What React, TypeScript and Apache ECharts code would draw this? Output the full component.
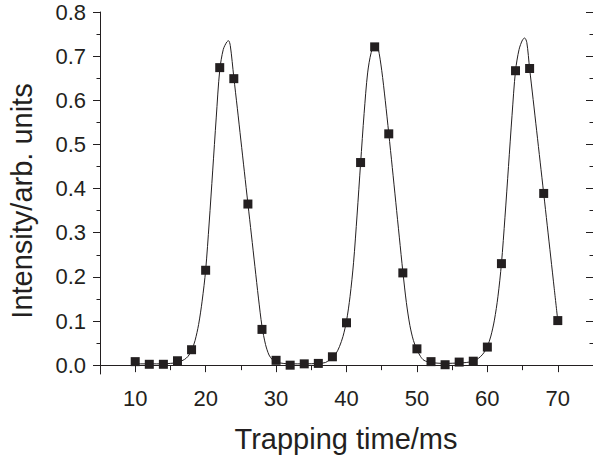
import React, { useEffect, useRef } from "react";
import * as echarts from "echarts";

// Measured data points (Trapping time in ms, intensity in arb. units)
const trapTimes = [10, 12, 14, 16, 18, 20, 22, 24, 26, 28, 30, 32, 34, 36, 38, 40, 42, 44, 46, 48, 50, 52, 54, 56, 58, 60, 62, 64, 66, 68, 70];
const intensities = [0.008, 0.002, 0.002, 0.010, 0.035, 0.215, 0.674, 0.649, 0.365, 0.081, 0.011, 0.000, 0.003, 0.004, 0.019, 0.096, 0.459, 0.721, 0.524, 0.209, 0.037, 0.008, 0.001, 0.007, 0.009, 0.041, 0.230, 0.667, 0.672, 0.389, 0.101];

// Fit curve
const fitTimes = [
  10, 12, 14, 15, 16, 17, 17.5, 18, 18.5, 19, 19.5, 20, 20.5, 21, 21.5, 22, 22.5, 23, 23.25, 23.5, 24, 24.5, 25, 25.5, 26, 26.5, 27, 27.5, 28, 28.5, 29, 29.5, 30, 31, 32, 34, 36,
  37, 38, 38.5, 39, 39.5, 40, 40.5, 41, 41.5, 42, 42.5, 43, 43.5, 44, 44.2, 44.5, 45, 45.5, 46, 46.5, 47, 47.5, 48, 48.5, 49, 49.5, 50, 50.5, 51, 52, 54, 56,
  57, 58, 58.5, 59, 59.5, 60, 60.5, 61, 61.5, 62, 62.5, 63, 63.5, 64, 64.5, 65, 65.3, 65.6, 66, 66.5, 67, 67.5, 68, 68.5, 69, 69.5, 70,
];
const fitValues = [
  0.003, 0.003, 0.003, 0.004, 0.006, 0.013, 0.02, 0.033, 0.056, 0.092, 0.145, 0.215, 0.322, 0.44, 0.56, 0.668, 0.715, 0.732, 0.735, 0.724, 0.652, 0.582, 0.51, 0.438, 0.366, 0.295, 0.223, 0.152, 0.088, 0.047, 0.023, 0.012, 0.007, 0.004, 0.003, 0.003, 0.004,
  0.006, 0.017, 0.026, 0.042, 0.065, 0.1, 0.155, 0.232, 0.34, 0.457, 0.57, 0.662, 0.708, 0.726, 0.729, 0.718, 0.668, 0.6, 0.525, 0.448, 0.369, 0.29, 0.212, 0.142, 0.09, 0.056, 0.035, 0.02, 0.011, 0.006, 0.004, 0.005,
  0.006, 0.009, 0.013, 0.019, 0.028, 0.042, 0.066, 0.102, 0.155, 0.23, 0.335, 0.45, 0.565, 0.667, 0.715, 0.737, 0.741, 0.731, 0.672, 0.602, 0.531, 0.46, 0.389, 0.317, 0.245, 0.173, 0.101,
];

// Tick positions
const xMajorTicks = [10, 20, 30, 40, 50, 60, 70];
const xMinorTicks = [15, 25, 35, 45, 55, 65];
const xBottomTicks = [10, 15, 20, 25, 30, 35, 40, 45, 50, 55, 60, 65, 70];
const yMajorTicks = [0, 0.1, 0.2, 0.3, 0.4, 0.5, 0.6, 0.7, 0.8];
const yMinorTicks = [0.05, 0.15, 0.25, 0.35, 0.45, 0.55, 0.65, 0.75];

const xTitle = "Trapping time/ms";
const yTitle = "Intensity/arb. units";

const INK = "#231f20";
const FONT = "'Liberation Sans', Arial, Helvetica, sans-serif";

export default function App() {
  const ref = useRef<HTMLDivElement>(null);

  useEffect(() => {
    document.body.style.margin = "0";
    const chart = echarts.init(ref.current!, null, { renderer: "svg" });
    const lineStyle = { color: INK, width: 1 };
    const xBase = { type: "value", min: 5, max: 75, splitLine: { show: false } };
    const yBase = { type: "value", min: -0.02, max: 0.8, splitLine: { show: false } };

    chart.setOption({
      animation: false,
      backgroundColor: "#ffffff",
      grid: { left: 100, top: 12, width: 494, height: 362, containLabel: false },
      xAxis: [
        {
          ...xBase,
          position: "bottom",
          axisLine: { show: true, lineStyle },
          axisTick: { show: true, inside: false, length: 5, customValues: xBottomTicks, lineStyle },
          axisLabel: {
            show: true,
            customValues: xMajorTicks,
            margin: 13,
            fontSize: 22,
            fontFamily: FONT,
            color: INK,
          },
        },
        {
          ...xBase,
          position: "top",
          axisLine: { show: true, lineStyle },
          axisTick: { show: true, inside: true, length: 7, customValues: xMajorTicks, lineStyle },
          axisLabel: { show: false },
        },
        {
          ...xBase,
          position: "top",
          axisLine: { show: false },
          axisTick: { show: true, inside: true, length: 3.5, customValues: xMinorTicks, lineStyle },
          axisLabel: { show: false },
        },
      ],
      yAxis: [
        {
          ...yBase,
          position: "left",
          axisLine: { show: true, lineStyle },
          axisTick: { show: true, inside: false, length: 7, customValues: yMajorTicks, lineStyle },
          axisLabel: {
            show: true,
            customValues: yMajorTicks,
            formatter: (v: number) => v.toFixed(1),
            margin: 14,
            fontSize: 22,
            fontFamily: FONT,
            color: INK,
          },
        },
        {
          ...yBase,
          position: "left",
          axisLine: { show: false },
          axisTick: { show: true, inside: false, length: 3.5, customValues: yMinorTicks, lineStyle },
          axisLabel: { show: false },
        },
        {
          ...yBase,
          position: "right",
          axisLine: { show: true, lineStyle },
          axisTick: { show: true, inside: true, length: 7, customValues: yMajorTicks, lineStyle },
          axisLabel: { show: false },
        },
        {
          ...yBase,
          position: "right",
          axisLine: { show: false },
          axisTick: { show: true, inside: true, length: 3.5, customValues: yMinorTicks, lineStyle },
          axisLabel: { show: false },
        },
      ],
      graphic: [
        {
          type: "text",
          x: 346,
          y: 439,
          style: {
            text: xTitle,
            fontSize: 29,
            fontFamily: FONT,
            fill: INK,
            align: "center",
            verticalAlign: "middle",
          },
        },
        {
          type: "text",
          x: 22,
          y: 201,
          rotation: Math.PI / 2,
          style: {
            text: yTitle,
            fontSize: 29,
            fontFamily: FONT,
            fill: INK,
            align: "center",
            verticalAlign: "middle",
          },
        },
      ],
      series: [
        {
          type: "line",
          name: "fit",
          xAxisIndex: 0,
          yAxisIndex: 0,
          data: fitTimes.map((t, i) => [t, fitValues[i]]),
          showSymbol: false,
          symbol: "none",
          smooth: 0.3,
          lineStyle: { color: INK, width: 1 },
          z: 2,
        },
        {
          type: "scatter",
          name: "data",
          xAxisIndex: 0,
          yAxisIndex: 0,
          data: trapTimes.map((t, i) => [t, intensities[i]]),
          symbol: "rect",
          symbolSize: 9,
          itemStyle: { color: INK, opacity: 1 },
          z: 3,
        },
      ],
    });
    return () => chart.dispose();
  }, []);

  return <div ref={ref} style={{ width: 593, height: 458 }} />;
}
